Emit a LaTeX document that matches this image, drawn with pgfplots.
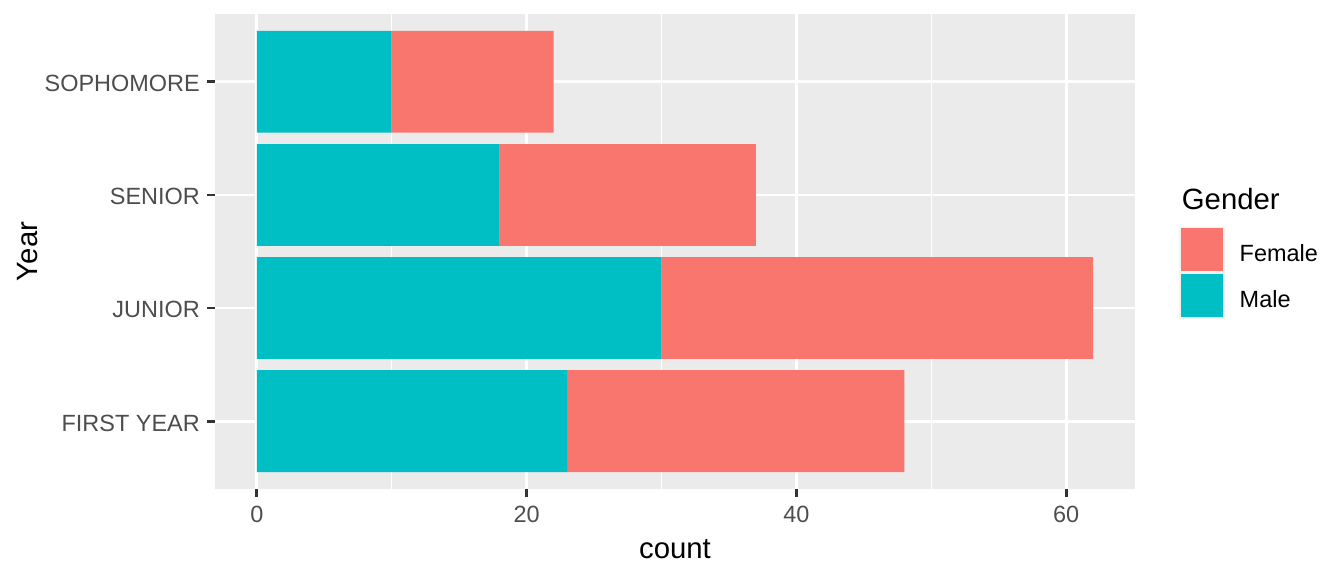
\documentclass[border=0pt]{standalone}
\usepackage{fontspec}
\setmainfont{Liberation Sans}
\usepackage{pgfplots}
\pgfplotsset{compat=1.18}
\definecolor{female}{HTML}{F8766D}
\definecolor{male}{HTML}{00BFC4}
\definecolor{panelbg}{HTML}{EBEBEB}
\definecolor{grey95}{HTML}{F2F2F2}
\definecolor{grey30}{HTML}{4D4D4D}
\definecolor{grey20}{HTML}{333333}
\begin{document}
\begin{tikzpicture}
\begin{axis}[
  at={(80.625pt,-183.375pt)}, anchor=south west,
  scale only axis, width=345pt, height=178.125pt,
  xbar stacked, bar width=0.9,
  xmin=-3.1, xmax=65.1, ymin=0.4, ymax=4.6,
  xtick={0,20,40,60}, minor xtick={10,30,50},
  ytick={1,2,3,4}, yticklabels={FIRST YEAR,JUNIOR,SENIOR,SOPHOMORE},
  xtick pos=bottom, ytick pos=left,
  tick align=outside, major tick length=2.9pt, minor tick length=0pt,
  tick style={grey20, line width=1.07pt},
  xmajorgrids, xminorgrids, ymajorgrids,
  major grid style={white, line width=1.07pt},
  minor grid style={white, line width=0.53pt},
  axis line style={draw=none},
  axis background/.style={fill=panelbg},
  tick label style={font=\fontsize{8.8}{10}\selectfont, text=grey30},
  yticklabel style={xshift=0.75pt, yshift=-0.7pt},
  /pgf/number format/assume math mode=true,
  xlabel={count}, ylabel={Year},
  label style={font=\fontsize{11}{13}\selectfont},
  xlabel style={at={(axis description cs:0.5,-0.1454)}, anchor=base},
  ylabel style={at={(axis description cs:-0.1925,0.5)}, anchor=base},
  reverse legend,
  legend style={at={(axis description cs:1.0478,0.5523)}, anchor=north west,
    draw=none, fill=none, inner sep=0pt, outer sep=0pt, row sep=0pt, column sep=5.5pt,
    font=\fontsize{8.8}{10}\selectfont, nodes={inner sep=0pt, yshift=-1.9pt}},
  legend cell align=left,
  legend image code/.code={
    \fill[grey95] (0pt,-8.64pt) rectangle (17.28pt,8.64pt);
    \fill[#1] (0.65pt,-7.99pt) rectangle (16.63pt,7.99pt);
  },
]
\addplot[fill=male, draw=none] coordinates {(23,1) (30,2) (18,3) (10,4)};
\addplot[fill=female, draw=none] coordinates {(25,1) (32,2) (19,3) (12,4)};
\legend{Male,Female}
\end{axis}
\node[anchor=base west, inner sep=0pt, font=\fontsize{11}{13}\selectfont] at (443pt,-78.75pt) {Gender};
\pgfresetboundingbox
\path[use as bounding box] (0,0) rectangle (504pt,-216pt);
\end{tikzpicture}
\end{document}
